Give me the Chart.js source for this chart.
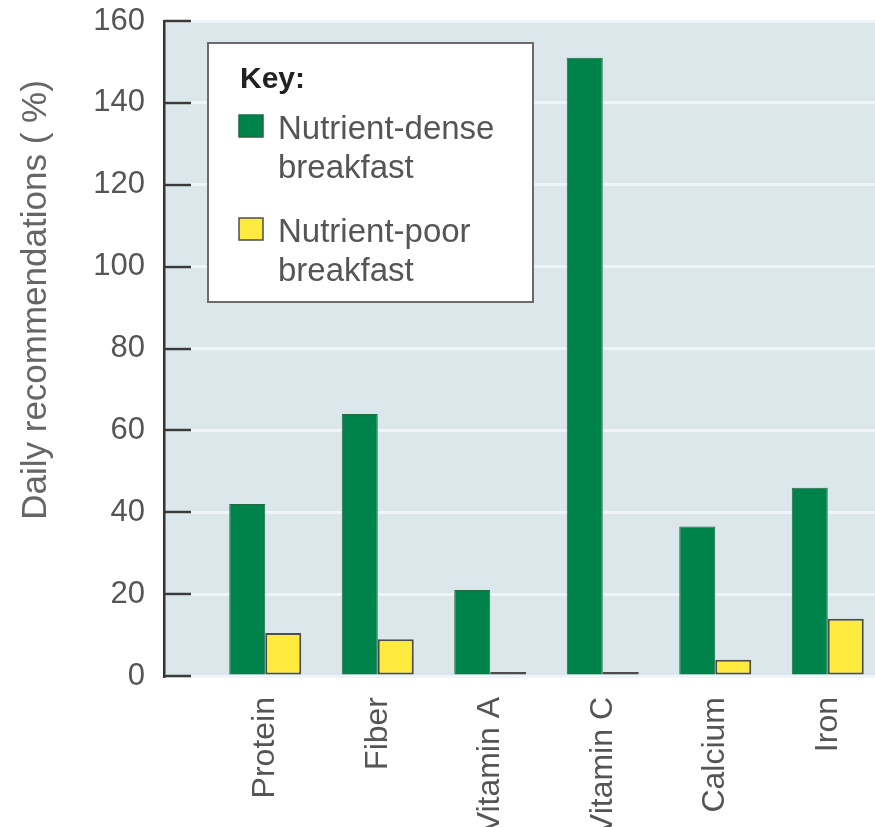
<!DOCTYPE html>
<html>
<head>
<meta charset="utf-8">
<script src="https://cdn.jsdelivr.net/npm/chart.js@4"></script>
<style>
  html, body { margin: 0; padding: 0; background: #fff; overflow: hidden; }
  #wrap { width: 875px; height: 827px; }
</style>
</head>
<body>
<div id="wrap"><canvas id="breakfast"></canvas></div>
<script>
// nutrients along the bottom
const nutrients = ['Protein', 'Fiber', 'Vitamin A', 'Vitamin C', 'Calcium', 'Iron'];
// % of the daily recommendation
const denseValues = [42, 64, 21, 151, 36.5, 46];
const poorValues = [10.5, 9, 0, 0, 4, 14];
const seriesNames = ['Nutrient-dense breakfast', 'Nutrient-poor breakfast'];
const yTicks = [0, 20, 40, 60, 80, 100, 120, 140, 160];
const yTitle = 'Daily recommendations ( %)';
const keyTitle = 'Key:';

Chart.defaults.font.family = '"Liberation Sans", Arial, sans-serif';

// light blue panel behind the bars
const plotBackground = {
  id: 'plotBackground',
  beforeDraw(chart) {
    const { ctx, chartArea: a } = chart;
    ctx.save();
    ctx.fillStyle = '#dce7ec';
    ctx.fillRect(a.left, a.top, a.right - a.left, a.bottom - a.top);
    ctx.restore();
  }
};

// tick marks on the inside of the y axis + rotated axis title
const axisExtras = {
  id: 'axisExtras',
  afterDraw(chart) {
    const { ctx, chartArea: a, scales: { y } } = chart;
    ctx.save();
    ctx.strokeStyle = '#3a3a3a';
    ctx.lineWidth = 2.5;
    y.ticks.forEach(t => {
      const py = Math.round(y.getPixelForValue(t.value));
      ctx.beginPath();
      ctx.moveTo(a.left, py);
      ctx.lineTo(a.left + 27, py);
      ctx.stroke();
    });
    ctx.translate(36, 300);
    ctx.rotate(-Math.PI / 2);
    ctx.font = '35px "Liberation Sans"';
    ctx.fillStyle = '#666';
    ctx.textAlign = 'center';
    ctx.textBaseline = 'middle';
    ctx.fillText(yTitle, 0, 0);
    ctx.restore();
  }
};

// the "Key:" box
const keyBox = {
  id: 'keyBox',
  afterDatasetsDraw(chart) {
    const { ctx, chartArea: a } = chart;
    const x0 = a.left + 44, y0 = a.top + 22, w = 325, h = 259;
    ctx.save();
    ctx.fillStyle = '#fff';
    ctx.fillRect(x0, y0, w, h);
    ctx.strokeStyle = '#6b6b6b';
    ctx.lineWidth = 2;
    ctx.strokeRect(x0, y0, w, h);
    ctx.fillStyle = '#222';
    ctx.font = 'bold 30px "Liberation Sans"';
    ctx.textBaseline = 'alphabetic';
    ctx.fillText(keyTitle, x0 + 32, y0 + 45);
    chart.data.datasets.forEach((ds, i) => {
      const top = y0 + 72 + i * 103;
      ctx.fillStyle = ds.backgroundColor;
      ctx.fillRect(x0 + 31, top, 24, 22);
      ctx.strokeStyle = ds.borderColor;
      ctx.lineWidth = 1.5;
      ctx.strokeRect(x0 + 31, top, 24, 22);
      const words = ds.label.split(' ');
      ctx.fillStyle = '#555';
      ctx.font = '33px "Liberation Sans"';
      ctx.fillText(words[0], x0 + 70, top + 24);
      ctx.fillText(words.slice(1).join(' '), x0 + 70, top + 63);
    });
    ctx.restore();
  }
};

new Chart(document.getElementById('breakfast'), {
  type: 'bar',
  data: {
    datasets: [
      {
        label: seriesNames[0],
        data: denseValues.map((v, i) => ({ x: i, y: v })),
        backgroundColor: '#00834a',
        borderColor: '#1d6a44',
        borderWidth: 1,
        borderSkipped: 'start'
      },
      {
        label: seriesNames[1],
        data: poorValues.map((v, i) => ({ x: i, y: v })),
        backgroundColor: '#ffeb3f',
        borderColor: '#4d4d4d',
        borderWidth: 2,
        borderSkipped: false,
        minBarLength: 4,
        clip: false
      }
    ]
  },
  options: {
    responsive: true,
    maintainAspectRatio: false,
    animation: false,
    layout: { padding: { top: 21, right: 0, bottom: 0, left: 0 } },
    datasets: { bar: { barPercentage: 1, categoryPercentage: 0.64 } },
    plugins: {
      legend: { display: false },
      tooltip: { enabled: false }
    },
    scales: {
      x: {
        type: 'linear',
        min: -0.9,
        max: 5.42,
        offset: false,
        afterBuildTicks: s => { s.ticks = nutrients.map((_, i) => ({ value: i })); },
        afterFit: s => { s.height = 151; s.paddingLeft = 0; s.paddingRight = 0; },
        ticks: {
          autoSkip: false,
          minRotation: 90,
          maxRotation: 90,
          padding: 21,
          color: '#555',
          font: { size: 32 },
          callback: v => nutrients[v]
        },
        grid: { display: false, drawTicks: false },
        border: { display: false }
      },
      y: {
        min: 0,
        max: 160,
        afterBuildTicks: s => { s.ticks = yTicks.map(v => ({ value: v })); },
        afterFit: s => { s.width = 164; s.paddingTop = 0; s.paddingBottom = 0; },
        ticks: { padding: 19, color: '#555', font: { size: 31 } },
        grid: { color: '#eef4f7', lineWidth: 3, drawTicks: false },
        border: { display: true, color: '#333', width: 2.5 }
      }
    }
  },
  plugins: [plotBackground, axisExtras, keyBox]
});
</script>
</body>
</html>
